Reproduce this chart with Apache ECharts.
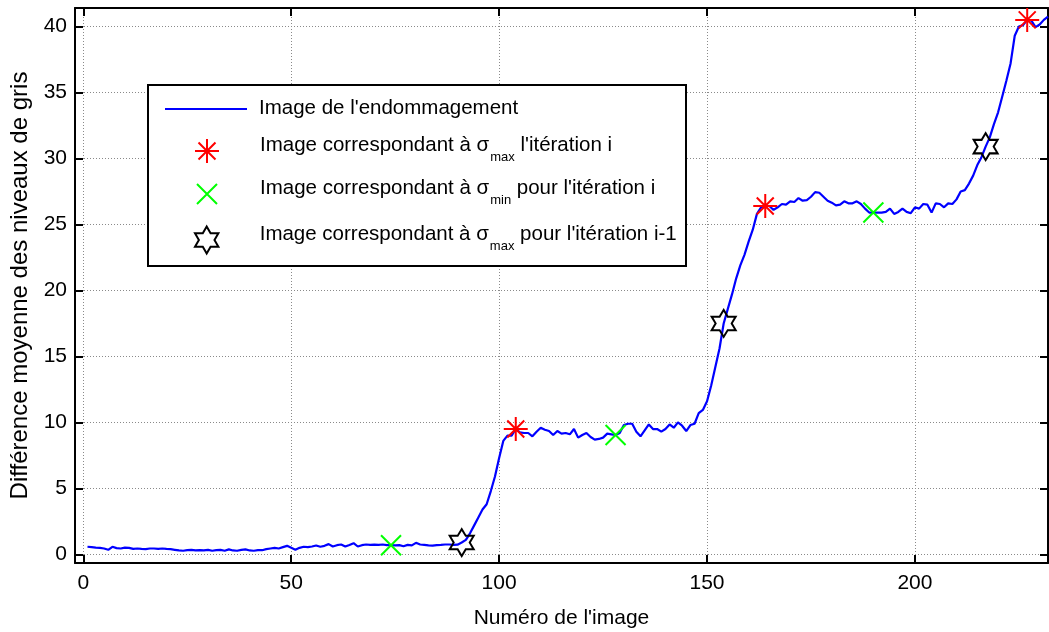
<!DOCTYPE html>
<html>
<head>
<meta charset="utf-8">
<script src="https://cdn.jsdelivr.net/npm/echarts@6/dist/echarts.min.js"></script>
<style>
  html, body { margin: 0; padding: 0; background: #ffffff; }
  #chart { width: 1049px; height: 632px; }
</style>
</head>
<body>
<div id="chart"></div>
<script>
// Mean grey-level difference for each image of the damage sequence (image 1 .. 232)
const firstImage = 1;
const greyDifference = [
  0.58, 0.55, 0.52, 0.50, 0.45, 0.35, 0.58, 0.48, 0.45, 0.52,
  0.50, 0.42, 0.45, 0.42, 0.40, 0.45, 0.45, 0.42, 0.45, 0.42,
  0.40, 0.35, 0.30, 0.28, 0.32, 0.35, 0.30, 0.32, 0.30, 0.35,
  0.28, 0.32, 0.35, 0.28, 0.38, 0.30, 0.28, 0.35, 0.38, 0.30,
  0.28, 0.32, 0.32, 0.40, 0.45, 0.50, 0.45, 0.55, 0.65, 0.50,
  0.35, 0.50, 0.58, 0.55, 0.60, 0.68, 0.58, 0.65, 0.78, 0.60,
  0.70, 0.75, 0.60, 0.72, 0.85, 0.60, 0.70, 0.75, 0.72, 0.74,
  0.72, 0.75, 0.70, 0.70, 0.68, 0.70, 0.62, 0.72, 0.68, 0.88,
  0.75, 0.72, 0.68, 0.66, 0.70, 0.72, 0.75, 0.75, 0.72, 0.74,
  0.90, 1.10, 1.60, 2.20, 2.80, 3.40, 3.80, 4.80, 5.90, 7.30,
  8.60, 9.00, 9.00, 9.50, 9.25, 9.20, 9.20, 8.95, 9.30, 9.60,
  9.45, 9.35, 9.05, 9.35, 9.15, 9.20, 9.10, 9.50, 8.85, 9.05,
  9.20, 8.90, 8.70, 8.75, 8.85, 9.15, 9.10, 9.05, 9.20, 9.80,
  9.90, 9.90, 9.30, 8.95, 9.40, 9.85, 9.50, 9.50, 9.30, 9.50,
  9.85, 9.60, 10.00, 9.75, 9.35, 9.80, 9.90, 10.70, 10.95, 11.60,
  12.80, 14.20, 15.60, 17.50, 18.60, 19.70, 20.90, 21.90, 22.70, 23.70,
  24.60, 25.80, 26.30, 26.40, 26.40, 26.10, 26.30, 26.55, 26.50, 26.75,
  26.70, 27.00, 26.80, 26.85, 27.10, 27.45, 27.40, 27.10, 26.80, 26.65,
  26.45, 26.50, 26.75, 26.60, 26.60, 26.75, 26.55, 26.20, 25.90, 25.90,
  25.90, 25.90, 25.95, 26.20, 25.80, 25.95, 26.20, 25.95, 25.85, 26.30,
  26.20, 26.55, 26.50, 25.90, 26.60, 26.55, 26.30, 26.60, 26.55, 26.90,
  27.50, 27.60, 28.10, 28.70, 29.50, 30.10, 30.90, 31.60, 32.60, 33.50,
  34.70, 35.90, 37.20, 39.30, 40.00, 40.10, 40.50, 40.45, 39.95, 40.15,
  40.50, 40.75
];

// Images at which sigma reaches its max / min in each loading iteration
const sigmaMaxImages = [104, 164, 227];
const sigmaMaxValues = [9.50, 26.40, 40.50];
const sigmaMinImages = [74, 128, 190];
const sigmaMinValues = [0.70, 9.05, 25.90];
const prevSigmaMaxImages = [91, 154, 217];
const prevSigmaMaxValues = [0.90, 17.50, 30.90];

// Axis ticks
const xTicks = [0, 50, 100, 150, 200];
const yTicks = [0, 5, 10, 15, 20, 25, 30, 35, 40];

const FONT = 'Liberation Sans';
const FS = 21;
const LEGEND_FS = 20.5;
const names = ['endommagement', 'sigmaMax', 'sigmaMin', 'sigmaMaxPrev'];

const linePoints = greyDifference.map((v, i) => [firstImage + i, v]);
const pair = (xs, ys) => xs.map((x, i) => [x, ys[i]]);

// Marker shapes
const asteriskPath = 'path://M0,-10L0,10M-10,0L10,0M-7.07,-7.07L7.07,7.07M-7.07,7.07L7.07,-7.07';
const crossPath = 'path://M-10,-10L10,10M-10,10L10,-10';
function hexagramPath() {
  const pts = [];
  for (let k = 0; k < 12; k++) {
    const a = (-90 + k * 30) * Math.PI / 180;
    const r = k % 2 === 0 ? 10 : 10 / Math.sqrt(3);
    pts.push((r * Math.cos(a)).toFixed(3) + ',' + (r * Math.sin(a)).toFixed(3));
  }
  return 'path://M' + pts.join('L') + 'Z';
}
const hexagram = hexagramPath();

const xRange = { min: -2, max: 232 };
const yRange = { min: -0.65, max: 41.4 };

const axisLineStyle = { color: '#000', width: 2 };
const tickLineStyle = { color: '#000', width: 2 };
const gridLineStyle = { color: '#8a8a8a', width: 1, type: [1, 2] };

const rich = {
  t: { fontFamily: FONT, fontSize: LEGEND_FS, color: '#000', lineHeight: 22, verticalAlign: 'top' },
  s: { fontFamily: FONT, fontSize: 13, color: '#000', lineHeight: 14, verticalAlign: 'top', padding: [16, 0, 0, 1] }
};

function legendEntry(item, left, top, w, h, formatter, pad) {
  return {
    data: [item],
    left: left,
    top: top,
    orient: 'vertical',
    padding: 0,
    itemWidth: w,
    itemHeight: h,
    selectedMode: false,
    z: 10,
    formatter: formatter,
    textStyle: { fontFamily: FONT, fontSize: LEGEND_FS, color: '#000', padding: pad, rich: rich }
  };
}

const option = {
  animation: false,
  backgroundColor: '#ffffff',
  grid: { left: 75, right: 1, top: 8, bottom: 69, containLabel: false, outerBoundsMode: 'none' },
  graphic: [{
    type: 'rect',
    left: 147, top: 84, z: 5,
    shape: { width: 538, height: 181 },
    style: { fill: '#fff', stroke: '#000', lineWidth: 2 }
  }],
  legend: [
    legendEntry({ name: names[0], icon: 'rect' }, 165, 98, 82, 2, () => "{t|Image de l'endommagement}", [0, 0, 0, 7]),
    legendEntry(names[1], 194, 135, 24, 24, () => "{t|Image correspondant à σ}{s|max}{t| l'itération i}", [0, 0, 10, 36]),
    legendEntry(names[2], 196, 178, 20, 20, () => "{t|Image correspondant à σ}{s|min}{t| pour l'itération i}", [0, 0, 10, 38]),
    legendEntry(names[3], 194, 224, 24, 27, () => "{t|Image correspondant à σ}{s|max}{t| pour l'itération i-1}", [0, 0, 10, 36])
  ],
  xAxis: [{
    type: 'value', position: 'bottom', min: xRange.min, max: xRange.max,
    name: "Numéro de l'image", nameLocation: 'middle', nameGap: 45,
    nameTextStyle: { fontFamily: FONT, fontSize: FS, color: '#000' },
    axisLine: { onZero: false, lineStyle: axisLineStyle },
    axisTick: { inside: true, length: 8, lineStyle: tickLineStyle, customValues: xTicks },
    axisLabel: { customValues: xTicks, fontFamily: FONT, fontSize: FS, color: '#000', margin: 10 },
    splitLine: { show: true, lineStyle: gridLineStyle }
  }, {
    type: 'value', position: 'top', min: xRange.min, max: xRange.max,
    axisLine: { onZero: false, lineStyle: axisLineStyle },
    axisTick: { inside: true, length: 8, lineStyle: tickLineStyle, customValues: xTicks },
    axisLabel: { show: false },
    splitLine: { show: false }
  }],
  yAxis: [{
    type: 'value', position: 'left', min: yRange.min, max: yRange.max,
    name: 'Différence moyenne des niveaux de gris', nameLocation: 'middle', nameGap: 43,
    nameTextStyle: { fontFamily: FONT, fontSize: 24, color: '#000' },
    axisLine: { show: true, onZero: false, lineStyle: axisLineStyle },
    axisTick: { show: true, inside: true, length: 8, lineStyle: tickLineStyle, customValues: yTicks },
    axisLabel: { customValues: yTicks, fontFamily: FONT, fontSize: FS, color: '#000', margin: 8 },
    splitLine: { show: true, lineStyle: gridLineStyle }
  }, {
    type: 'value', position: 'right', min: yRange.min, max: yRange.max,
    axisLine: { show: true, onZero: false, lineStyle: axisLineStyle },
    axisTick: { show: true, inside: true, length: 8, lineStyle: tickLineStyle, customValues: yTicks },
    axisLabel: { show: false },
    splitLine: { show: false }
  }],
  series: [{
    name: names[0],
    type: 'line',
    data: linePoints,
    symbol: 'none',
    lineStyle: { color: '#0000ff', width: 2.2 },
    itemStyle: { color: '#0000ff' },
    z: 3
  }, {
    name: names[1],
    type: 'scatter',
    data: pair(sigmaMaxImages, sigmaMaxValues),
    symbol: asteriskPath,
    symbolSize: 24,
    itemStyle: { color: 'transparent', borderColor: '#ff0000', borderWidth: 2, opacity: 1 },
    z: 4
  }, {
    name: names[2],
    type: 'scatter',
    data: pair(sigmaMinImages, sigmaMinValues),
    symbol: crossPath,
    symbolSize: 20,
    itemStyle: { color: 'transparent', borderColor: '#00ff00', borderWidth: 2, opacity: 1 },
    z: 4
  }, {
    name: names[3],
    type: 'scatter',
    data: pair(prevSigmaMaxImages, prevSigmaMaxValues),
    symbol: hexagram,
    symbolSize: [24, 27],
    itemStyle: { color: 'transparent', borderColor: '#000000', borderWidth: 2, opacity: 1 },
    z: 4
  }]
};

const chart = echarts.init(document.getElementById('chart'), null, { renderer: 'canvas' });
chart.setOption(option);
</script>
</body>
</html>
